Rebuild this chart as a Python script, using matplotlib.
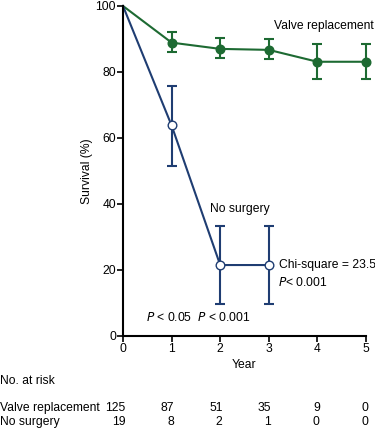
# Survival curves: valve replacement vs no surgery

import matplotlib.pyplot as plt
import numpy as np

plt.rcParams['font.family'] = ['Liberation Sans', 'DejaVu Sans']

years = [0, 1, 2, 3, 4, 5]

valve_surv = [100, 88.9, 87.0, 86.7, 83.1, 83.1]
valve_lo = [0, 2.9, 2.9, 2.9, 5.1, 5.1]
valve_hi = [0, 3.2, 3.3, 3.3, 5.3, 5.3]

nosurg_years = [0, 1, 2, 3]
nosurg_surv = [100, 63.8, 21.5, 21.5]
nosurg_lo = [0, 12.2, 11.8, 11.8]
nosurg_hi = [0, 12.0, 11.9, 11.9]

risk_labels = ['Valve replacement', 'No surgery']
risk_valve = [125, 87, 51, 35, 9, 0]
risk_nosurg = [19, 8, 2, 1, 0, 0]

green = '#1d6a32'
blue = '#1f3d72'
fs = 8.7

fig = plt.figure(figsize=(3.75, 4.28), dpi=100)
ax = fig.add_axes([0.328, 0.215, 0.648, 0.771])

# Valve replacement curve
eb = ax.errorbar(years[1:], valve_surv[1:], yerr=[valve_lo[1:], valve_hi[1:]],
                 fmt='none', ecolor=green, elinewidth=1.5, capsize=3.5, capthick=1.5)
for art in eb.get_children():
    art.set_clip_on(False)
ax.plot(years, valve_surv, color=green, lw=1.5, clip_on=False)
ax.plot(years[1:], valve_surv[1:], 'o', color=green, ms=6.2, clip_on=False)

# No surgery curve
eb = ax.errorbar(nosurg_years[1:], nosurg_surv[1:], yerr=[nosurg_lo[1:], nosurg_hi[1:]],
                 fmt='none', ecolor=blue, elinewidth=1.5, capsize=3.5, capthick=1.5)
for art in eb.get_children():
    art.set_clip_on(False)
ax.plot(nosurg_years, nosurg_surv, color=blue, lw=1.5, clip_on=False)
ax.plot(nosurg_years[1:], nosurg_surv[1:], 'o', mfc='white', mec=blue, mew=1.0, ms=6.2,
        clip_on=False)

ax.set_xlim(0, 5)
ax.set_ylim(0, 100)
ax.set_xticks(years)
ax.set_yticks([0, 20, 40, 60, 80, 100])
ax.tick_params(labelsize=fs, length=4, width=1.2, pad=1)
ax.spines['top'].set_visible(False)
ax.spines['right'].set_visible(False)
ax.spines['left'].set_linewidth(1.5)
ax.spines['bottom'].set_linewidth(1.5)
ax.set_xlabel('Year', fontsize=fs, labelpad=3)
ax.set_ylabel('Survival (%)', fontsize=fs, labelpad=2)

# Annotations
ax.text(3.1, 94, 'Valve replacement', fontsize=fs, va='center')
ax.text(2.4, 38.5, 'No surgery', fontsize=fs, ha='center', va='center')
ax.text(3.2, 21.5, 'Chi-square = 23.5', fontsize=fs, va='center')
ax.text(3.7, 16.3, '$\\it{P}$< 0.001', fontsize=fs, ha='center', va='center')
ax.text(1.55, 5.7, '$\\it{P}$ < 0.05  $\\it{P}$ < 0.001', fontsize=fs, ha='center', va='center')

# Number at risk table
ax.text(-2.53, -13.5, 'No. at risk', fontsize=fs, va='center', clip_on=False)
for row, (label, counts) in enumerate(zip(risk_labels, [risk_valve, risk_nosurg])):
    yrow = -21.8 - row * 4.2
    ax.text(-2.53, yrow, label, fontsize=fs, va='center', clip_on=False)
    for x, n in zip(years, counts):
        ax.text(x + 0.05, yrow, str(n), fontsize=fs, ha='right', va='center', clip_on=False)

fig.savefig('out.png', dpi=100)
